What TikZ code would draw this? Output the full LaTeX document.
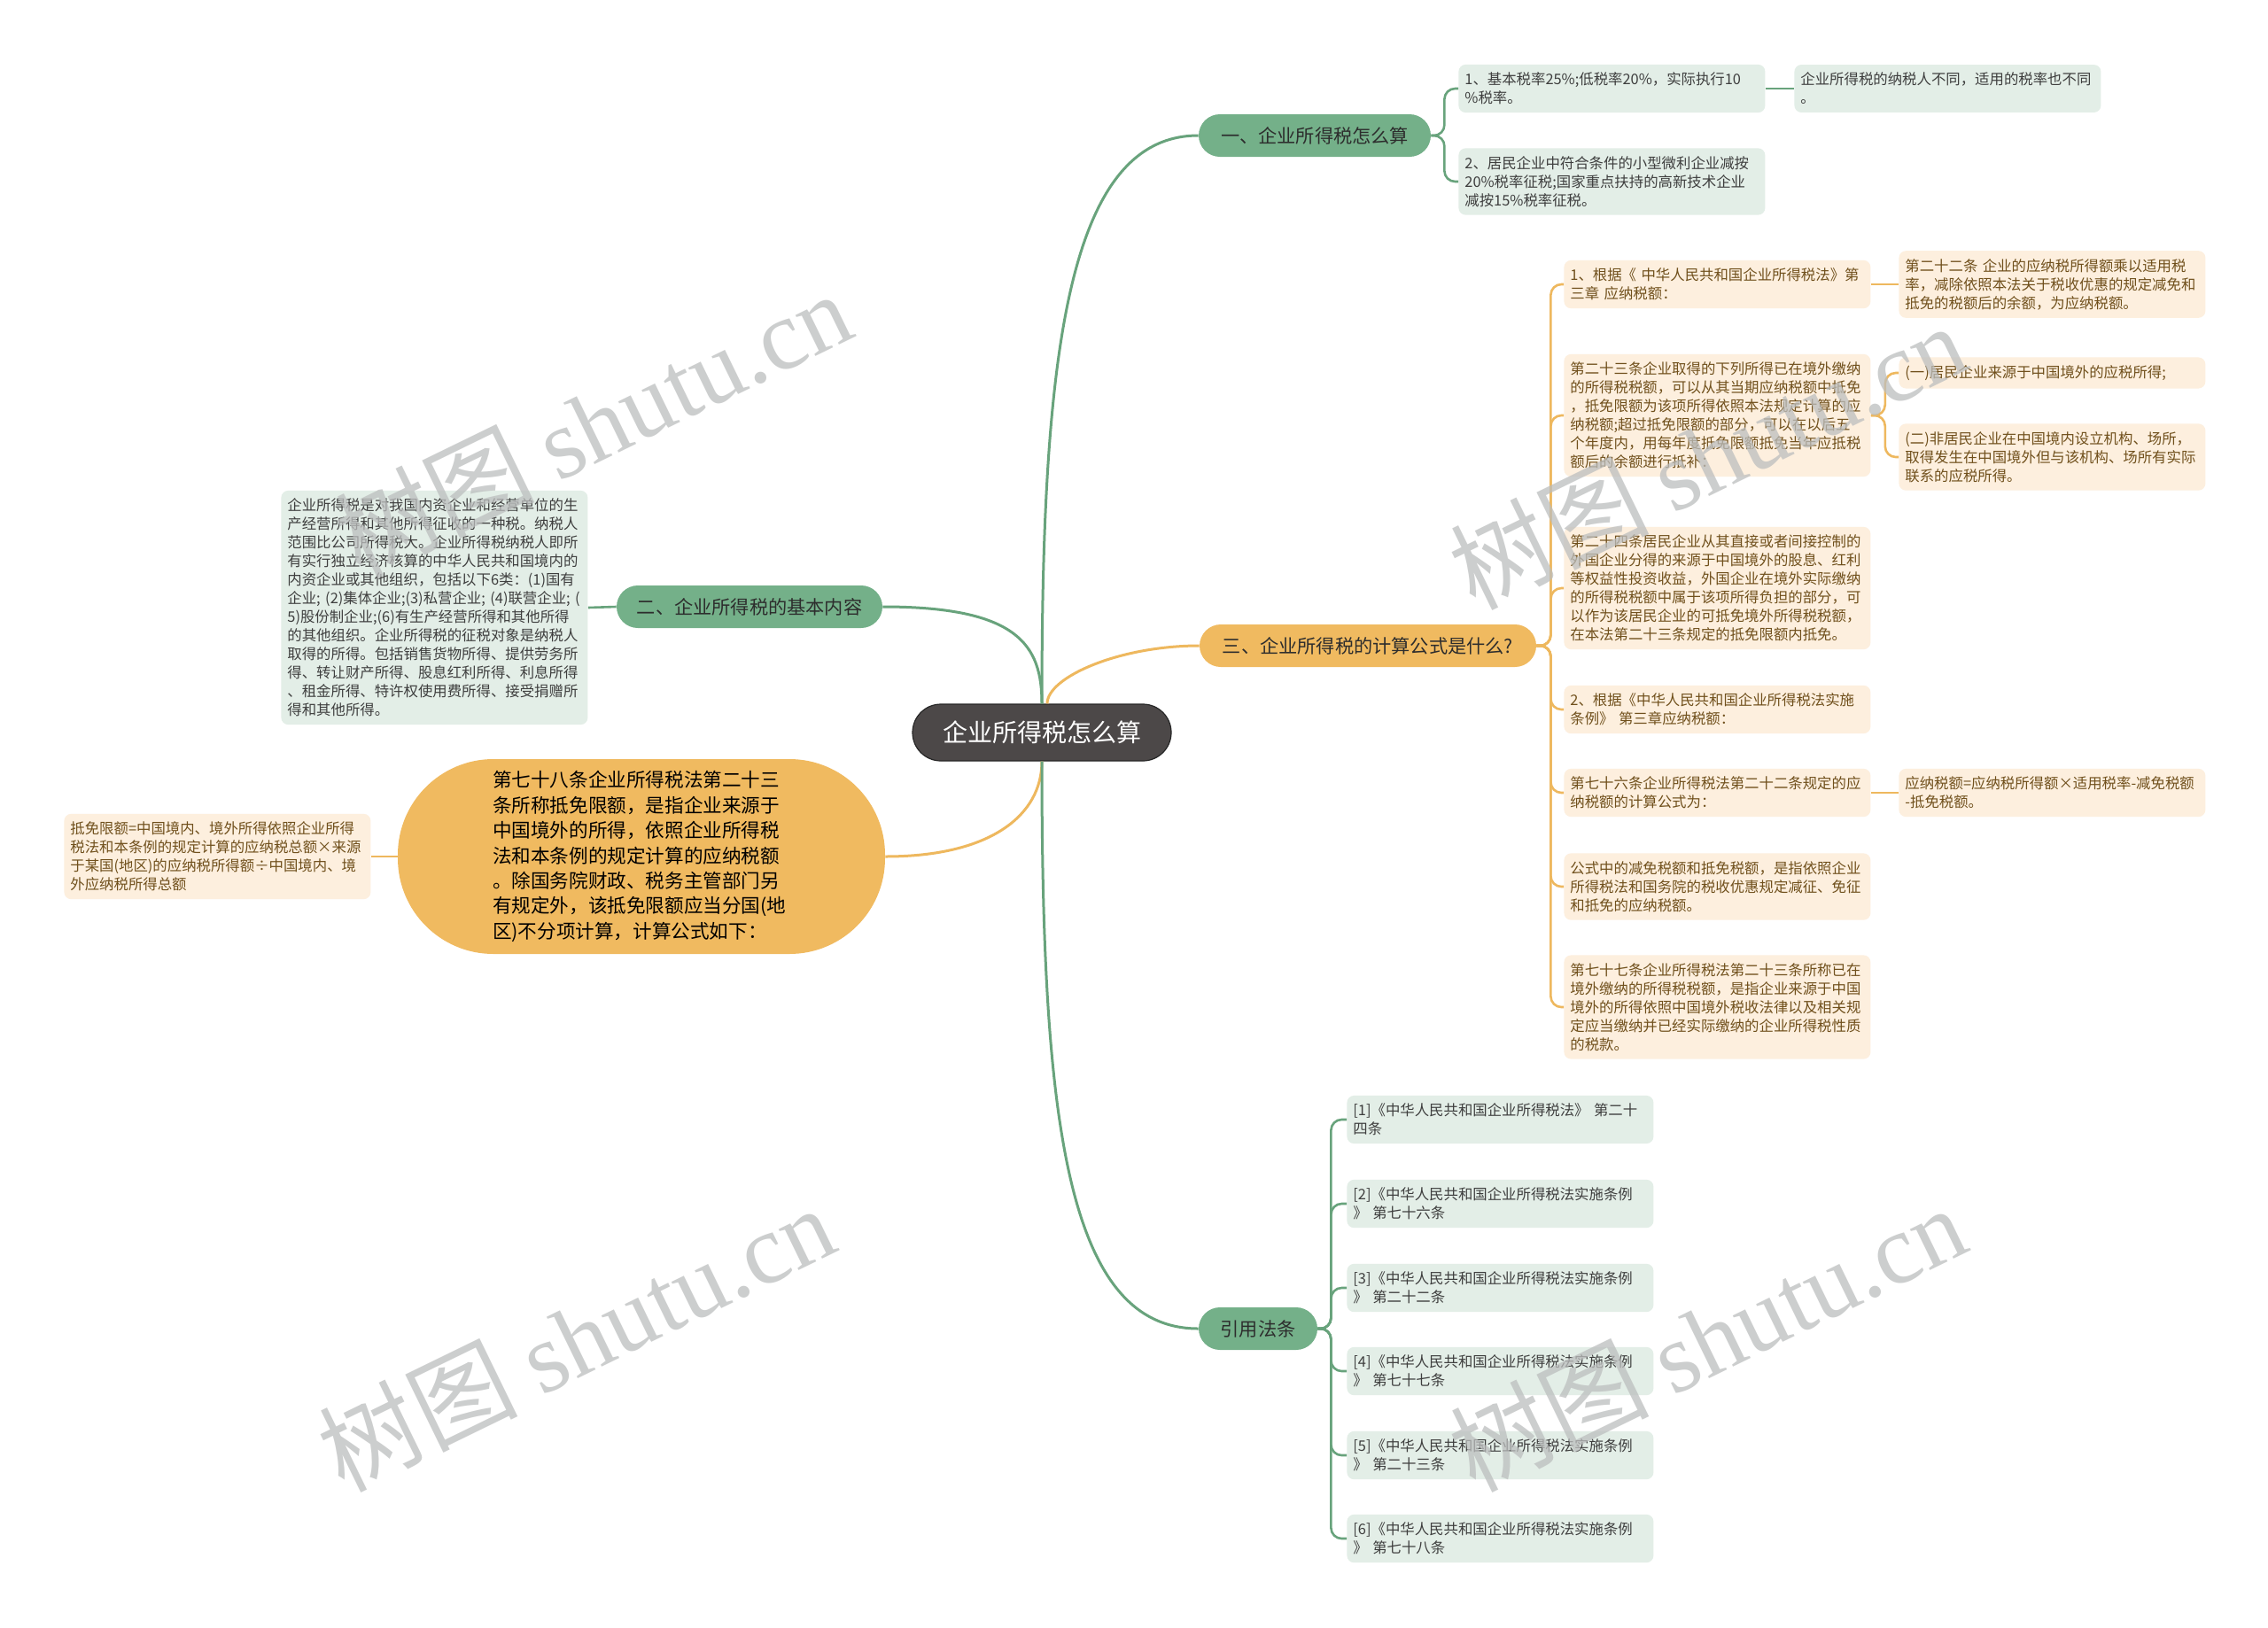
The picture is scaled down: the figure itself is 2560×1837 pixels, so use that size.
\documentclass[tikz,border=0pt]{standalone}
\usepackage{fontspec}
\setmainfont{Noto Sans CJK SC}
\newfontfamily\wmfont{Liberation Serif}
\usepackage{tikz}
\usetikzlibrary{arrows.meta,positioning,calc}

\definecolor{rootgray}{RGB}{76,72,72}
\definecolor{branchgreen}{RGB}{116,176,137}
\definecolor{branchorange}{RGB}{240,186,96}
\definecolor{leafgreen}{RGB}{227,238,231}
\definecolor{leaforange}{RGB}{253,239,222}
\definecolor{linegreen}{RGB}{104,163,124}
\definecolor{lineorange}{RGB}{238,184,94}
\definecolor{darktext}{RGB}{45,45,45}
\definecolor{leafgtext}{RGB}{62,62,62}
\definecolor{leafotext}{RGB}{112,80,28}
\definecolor{wmgray}{RGB}{188,190,190}

\begin{document}
\begin{tikzpicture}[x=0.5pt,y=-0.5pt,
  rootnode/.style={fill=rootgray,draw=black!85,line width=0.6pt,rounded corners=16pt,text=white,
    font=\fontsize{14}{17}\selectfont,minimum width=146pt,minimum height=32pt,inner sep=0pt},
  greenbranch/.style={fill=branchgreen,rounded corners=12pt,text=darktext,
    font=\fontsize{10.6}{13}\selectfont,minimum height=24pt,inner sep=0pt},
  orangebranch/.style={greenbranch,fill=branchorange},
  greenleaf/.style={fill=leafgreen,rounded corners=4pt,text=leafgtext,anchor=west,
    font=\fontsize{8.2}{10.5}\selectfont,align=left,text width=166pt,inner xsep=3.5pt,inner ysep=4.5pt},
  orangeleaf/.style={greenleaf,fill=leaforange,text=leafotext},
  greenline/.style={draw=linegreen,line width=1.5pt},
  orangeline/.style={draw=lineorange,line width=1.5pt},
  greenthin/.style={draw=linegreen,line width=1.3pt,rounded corners=6pt},
  orangethin/.style={draw=lineorange,line width=1.3pt,rounded corners=6pt},
  watermark/.style={rotate=26,text=wmgray,text opacity=0.75,font=\fontsize{56}{60}\selectfont}]
  \fill[white] (0,0) rectangle (2560,1837); % 背景と画面の大きさ

  \node[rootnode] (root) at (1176,827) {企业所得税怎么算}; % 中心主题

  \node[greenbranch,minimum width=131pt] (calc) at (1484,153) {一、企业所得税怎么算}; % 第一分支
  \node[greenbranch,minimum width=150pt] (basic) at (846,685) {二、企业所得税的基本内容}; % 第二分支
  \node[orangebranch,minimum width=190pt] (formula) at (1544,729) {三、企业所得税的计算公式是什么?}; % 第三分支
  \node[orangebranch,rounded corners=54pt,minimum width=275pt,minimum height=110pt,align=left,text width=168pt,
    font=\fontsize{10.8}{14.2}\selectfont,text={RGB,255:red,60;green,48;blue,30}] (limit) at (724,967)
    {第七十八条企业所得税法第二十三\\条所称抵免限额，是指企业来源于\\中国境外的所得，依照企业所得税\\法和本条例的规定计算的应纳税额\\。除国务院财政、税务主管部门另\\有规定外，该抵免限额应当分国(地\\区)不分项计算，计算公式如下：}; % 第七十八条
  \node[greenbranch,minimum width=67pt] (laws) at (1420,1500) {引用法条}; % 引用法条

  % 第一分支の葉
  \node[greenleaf] (rate1) at (1646,100) {1、基本税率25\%;低税率20\%，实际执行10\\\%税率。};
  \node[greenleaf] (ratenote) at (2025,100) {企业所得税的纳税人不同，适用的税率也不同\\。};
  \node[greenleaf] (rate2) at (1646,205) {2、居民企业中符合条件的小型微利企业减按\\20\%税率征税;国家重点扶持的高新技术企业\\减按15\%税率征税。};

  % 第二分支の葉
  \node[greenleaf] (basicdesc) at (317,686) {企业所得税是对我国内资企业和经营单位的生\\产经营所得和其他所得征收的一种税。纳税人\\范围比公司所得税大。企业所得税纳税人即所\\有实行独立经济核算的中华人民共和国境内的\\内资企业或其他组织，包括以下6类：(1)国有\\企业;~(2)集体企业;(3)私营企业;~(4)联营企业;~(\\5)股份制企业;(6)有生产经营所得和其他所得\\的其他组织。企业所得税的征税对象是纳税人\\取得的所得。包括销售货物所得、提供劳务所\\得、转让财产所得、股息红利所得、利息所得\\、租金所得、特许权使用费所得、接受捐赠所\\得和其他所得。};

  % 第三分支の葉
  \node[orangeleaf] (law1) at (1765,321) {1、根据《~中华人民共和国企业所得税法》第\\三章~应纳税额：};
  \node[orangeleaf] (art22) at (2143,321) {第二十二条~企业的应纳税所得额乘以适用税\\率，减除依照本法关于税收优惠的规定减免和\\抵免的税额后的余额，为应纳税额。};
  \node[orangeleaf] (art23) at (1765,469) {第二十三条企业取得的下列所得已在境外缴纳\\的所得税税额，可以从其当期应纳税额中抵免\\，抵免限额为该项所得依照本法规定计算的应\\纳税额;超过抵免限额的部分，可以在以后五\\个年度内，用每年度抵免限额抵免当年应抵税\\额后的余额进行抵补：};
  \node[orangeleaf] (item1) at (2143,421) {(一)居民企业来源于中国境外的应税所得;};
  \node[orangeleaf] (item2) at (2143,516) {(二)非居民企业在中国境内设立机构、场所，\\取得发生在中国境外但与该机构、场所有实际\\联系的应税所得。};
  \node[orangeleaf] (art24) at (1765,664) {第二十四条居民企业从其直接或者间接控制的\\外国企业分得的来源于中国境外的股息、红利\\等权益性投资收益，外国企业在境外实际缴纳\\的所得税税额中属于该项所得负担的部分，可\\以作为该居民企业的可抵免境外所得税税额，\\在本法第二十三条规定的抵免限额内抵免。};
  \node[orangeleaf] (law2) at (1765,801) {2、根据《中华人民共和国企业所得税法实施\\条例》~第三章应纳税额：};
  \node[orangeleaf] (art76) at (1765,895) {第七十六条企业所得税法第二十二条规定的应\\纳税额的计算公式为：};
  \node[orangeleaf] (taxcalc) at (2143,895) {应纳税额=应纳税所得额×适用税率-减免税额\\-抵免税额。};
  \node[orangeleaf] (reduce) at (1765,1001) {公式中的减免税额和抵免税额，是指依照企业\\所得税法和国务院的税收优惠规定减征、免征\\和抵免的应纳税额。};
  \node[orangeleaf] (art77) at (1765,1137) {第七十七条企业所得税法第二十三条所称已在\\境外缴纳的所得税税额，是指企业来源于中国\\境外的所得依照中国境外税收法律以及相关规\\定应当缴纳并已经实际缴纳的企业所得税性质\\的税款。};

  % 第七十八条の葉
  \node[orangeleaf] (limitcalc) at (72,967) {抵免限额=中国境内、境外所得依照企业所得\\税法和本条例的规定计算的应纳税总额×来源\\于某国(地区)的应纳税所得额÷中国境内、境\\外应纳税所得总额};

  % 引用法条の葉
  \node[greenleaf] (ref1) at (1520,1264) {[1]《中华人民共和国企业所得税法》~第二十\\四条};
  \node[greenleaf] (ref2) at (1520,1359) {[2]《中华人民共和国企业所得税法实施条例\\》~第七十六条};
  \node[greenleaf] (ref3) at (1520,1454) {[3]《中华人民共和国企业所得税法实施条例\\》~第二十二条};
  \node[greenleaf] (ref4) at (1520,1548) {[4]《中华人民共和国企业所得税法实施条例\\》~第七十七条};
  \node[greenleaf] (ref5) at (1520,1643) {[5]《中华人民共和国企业所得税法实施条例\\》~第二十三条};
  \node[greenleaf] (ref6) at (1520,1737) {[6]《中华人民共和国企业所得税法实施条例\\》~第七十八条};

  % 中心から分支への曲線
  \draw[greenline] (root.north) .. controls +(0,-385) and +(-150,0) .. (calc.west); % 第一分支へ
  \draw[greenline] (root.north) .. controls +(0,-66) and +(153,0) .. (basic.east); % 第二分支へ
  \draw[orangeline] ([xshift=3pt]root.north) .. controls +(0,-30) and +(-90,0) .. (formula.west); % 第三分支へ
  \draw[orangeline] (root.south) .. controls +(0,60) and +(120,0) .. (limit.east); % 第七十八条へ
  \draw[greenline] (root.south) .. controls +(0,400) and +(-150,0) .. (laws.west); % 引用法条へ

  % 分支から葉への線
  \draw[greenthin] (calc.east) -- ++(15,0) |- (rate1.west);
  \draw[greenthin] (calc.east) -- ++(15,0) |- (rate2.west);
  \draw[greenthin] (rate1.east) -- (ratenote.west);
  \draw[greenthin] (basic.west) -- (basicdesc.east);
  \draw[orangethin] (formula.east) -- ++(16,0) |- (law1.west);
  \draw[orangethin] (formula.east) -- ++(16,0) |- (art23.west);
  \draw[orangethin] (formula.east) -- ++(16,0) |- (art24.west);
  \draw[orangethin] (formula.east) -- ++(16,0) |- (law2.west);
  \draw[orangethin] (formula.east) -- ++(16,0) |- (art76.west);
  \draw[orangethin] (formula.east) -- ++(16,0) |- (reduce.west);
  \draw[orangethin] (formula.east) -- ++(16,0) |- (art77.west);
  \draw[orangethin] (law1.east) -- (art22.west);
  \draw[orangethin] (art23.east) -- ++(16,0) |- (item1.west);
  \draw[orangethin] (art23.east) -- ++(16,0) |- (item2.west);
  \draw[orangethin] (art76.east) -- (taxcalc.west);
  \draw[orangethin] (limit.west) -- (limitcalc.east);
  \draw[greenthin] (laws.east) -- ++(15,0) |- (ref1.west);
  \draw[greenthin] (laws.east) -- ++(15,0) |- (ref2.west);
  \draw[greenthin] (laws.east) -- ++(15,0) |- (ref3.west);
  \draw[greenthin] (laws.east) -- ++(15,0) |- (ref4.west);
  \draw[greenthin] (laws.east) -- ++(15,0) |- (ref5.west);
  \draw[greenthin] (laws.east) -- ++(15,0) |- (ref6.west);

  % 透かし文字
  \node[watermark] (wm1) at (669,478) {树图 {\wmfont shutu.cn}};
  \node[watermark] (wm2) at (1927,514) {树图 {\wmfont shutu.cn}};
  \node[watermark] (wm3) at (650,1510) {树图 {\wmfont shutu.cn}};
  \node[watermark] (wm4) at (1927,1510) {树图 {\wmfont shutu.cn}};
\end{tikzpicture}
\end{document}
